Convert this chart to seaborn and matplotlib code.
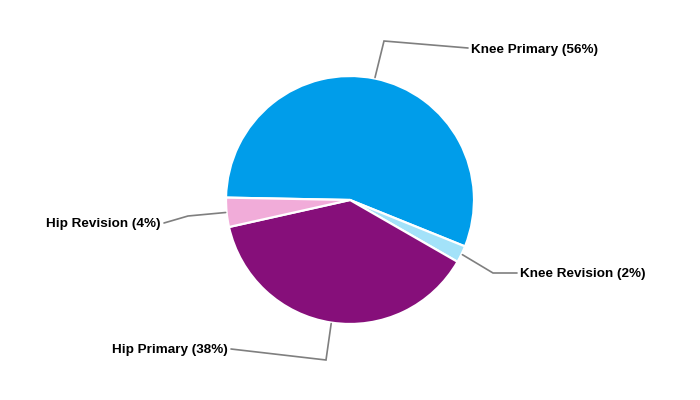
import numpy as np
import seaborn as sns
import matplotlib.pyplot as plt

# data
categories = ["Knee Primary", "Knee Revision", "Hip Primary", "Hip Revision"]
shares = [55.8, 2.2, 38.2, 3.8]
colors = ["#009dea", "#a3e2f9", "#860f7a", "#f1acd9"]

# label layout (pixel coords: elbow point, text anchor)
elbows = [(384, 41), (493, 273), (326, 360), (188, 216)]
text_pos = [(471, 48), (520, 273), (228, 349), (161, 223)]
aligns = ["left", "left", "right", "right"]

sns.set_theme(style="white")
plt.rcParams["font.family"] = ["Liberation Sans", "DejaVu Sans"]

W, H = 700, 400
cx, cy, R = 350, 200, 124

fig = plt.figure(figsize=(7, 4), dpi=100)
ax = fig.add_axes([0, 0, 1, 1])
wedges, _ = ax.pie(shares, colors=colors, startangle=178.9, counterclock=False,
                   center=(cx, H - cy), radius=R, frame=True,
                   wedgeprops=dict(edgecolor="white", linewidth=1.6))
ax.set_xlim(0, W)
ax.set_ylim(0, H)
ax.set_aspect("equal")
ax.axis("off")

for w, name, val, (ex, ey), (tx, ty), ha in zip(wedges, categories, shares,
                                               elbows, text_pos, aligns):
    mid = np.deg2rad((w.theta1 + w.theta2) / 2)
    sx = cx + (R + 1) * np.cos(mid)
    sy = (H - cy) + (R + 1) * np.sin(mid)
    end_x = tx - 3 if ha == "left" else tx + 3
    ax.plot([sx, ex, end_x], [sy, H - ey, H - ty], color="#7f7f7f",
            lw=1.2, solid_joinstyle="miter", zorder=1)
    ax.text(tx, H - ty - 1.5, f"{name} ({val:.0f}%)", ha=ha, va="center",
            fontsize=9.7, fontweight="bold", color="black")

fig.savefig("out.png", dpi=100)
